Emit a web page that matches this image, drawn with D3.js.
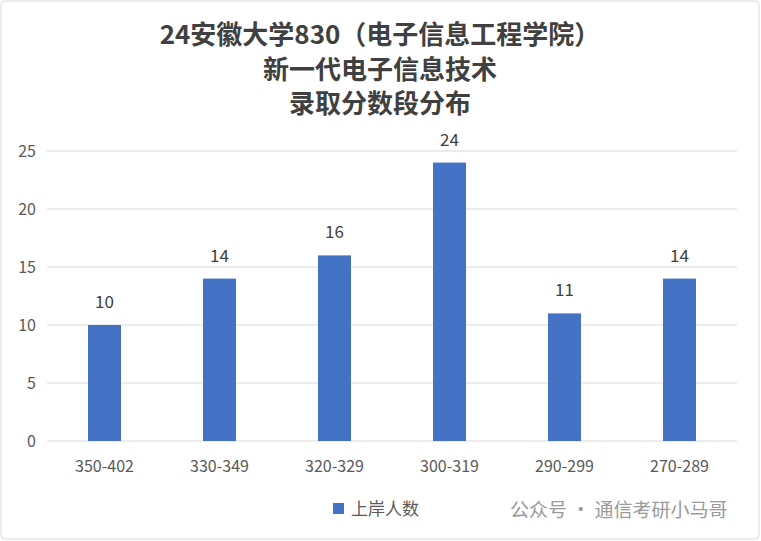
<!DOCTYPE html>
<html><head><meta charset="utf-8">
<script src="https://cdn.jsdelivr.net/npm/d3@7"></script>
<style>body{margin:0;background:#fff}</style></head>
<body><svg id="c" width="761" height="541"></svg>
<script>
const categories=["350-402","330-349","320-329","300-319","290-299","270-289"];
const values=[10,14,16,24,11,14];
const yTicks=[0,5,10,15,20,25];
const titleLines=["24安徽大学830（电子信息工程学院）","新一代电子信息技术","录取分数段分布"];
const seriesName="上岸人数";
const svg=d3.select("#c");
const font="'Microsoft YaHei','Noto Sans CJK SC',sans-serif";
svg.append("rect").attr("x",1).attr("y",1).attr("width",758).attr("height",538).attr("rx",4).attr("fill","#fff").attr("stroke","#d9d9d9");
const x=d3.scaleBand().domain(categories).range([47,737]).paddingInner(0.713).paddingOuter(0.3565);
const y=d3.scaleLinear().domain([0,25]).range([441,151]);
svg.selectAll(".g").data(yTicks).join("line").attr("x1",47).attr("x2",737).attr("y1",d=>y(d)).attr("y2",d=>y(d)).attr("stroke","#d9d9d9");
svg.selectAll(".yl").data(yTicks).join("text").attr("x",36).attr("y",d=>y(d)+6).attr("text-anchor","end").attr("font-family",font).attr("font-size",16).attr("fill","#595959").text(d=>d);
svg.selectAll(".b").data(values).join("rect").attr("x",(d,i)=>x(categories[i])).attr("width",x.bandwidth()).attr("y",d=>y(d)).attr("height",d=>y(0)-y(d)).attr("fill","#4472c4");
svg.selectAll(".v").data(values).join("text").attr("x",(d,i)=>x(categories[i])+x.bandwidth()/2).attr("y",d=>y(d)-17).attr("text-anchor","middle").attr("font-family",font).attr("font-size",17).attr("fill","#404040").text(d=>d);
svg.selectAll(".xl").data(categories).join("text").attr("x",d=>x(d)+x.bandwidth()/2).attr("y",472).attr("text-anchor","middle").attr("font-family",font).attr("font-size",16).attr("fill","#595959").text(d=>d);
svg.selectAll(".t").data(titleLines).join("text").attr("x",380).attr("y",(d,i)=>44+i*34.5).attr("text-anchor","middle").attr("font-family",font).attr("font-weight","bold").attr("font-size",26).attr("fill","#404040").text(d=>d);
svg.append("rect").attr("x",333).attr("y",503).attr("width",11).attr("height",11).attr("fill","#4472c4");
svg.append("text").attr("x",351).attr("y",515).attr("font-family",font).attr("font-size",17).attr("fill","#595959").text(seriesName);
svg.append("text").attr("x",510).attr("y",517).attr("font-family",font).attr("font-size",19).attr("fill","#9a9a9a").text("公众号 · 通信考研小马哥");
</script></body></html>
